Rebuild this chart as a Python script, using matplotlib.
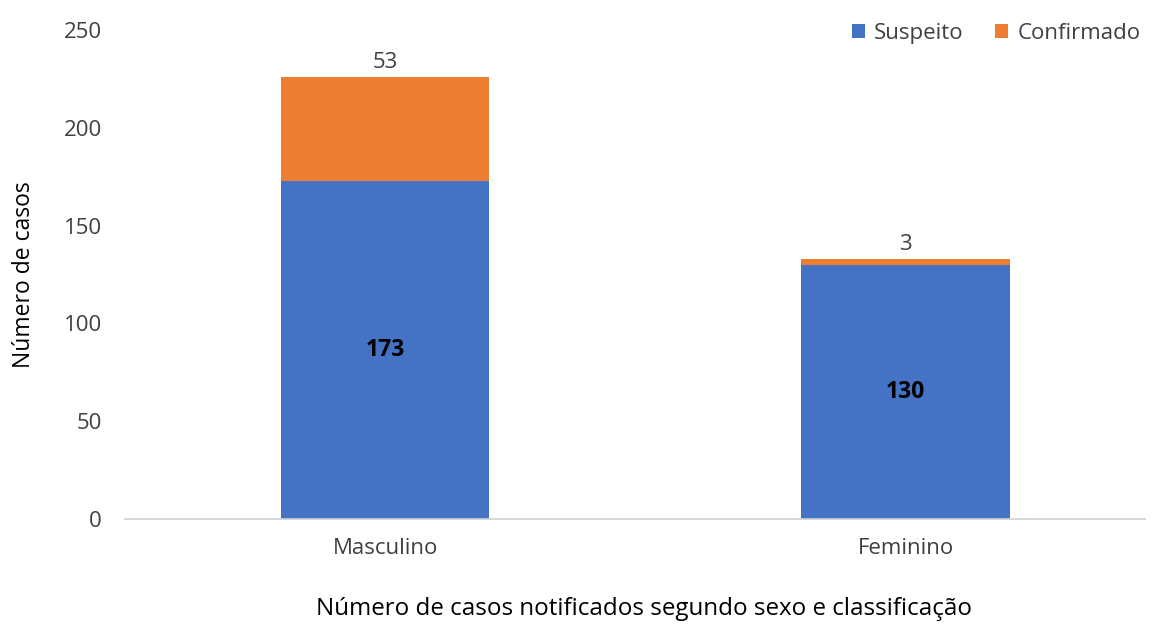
import matplotlib

matplotlib.use("Agg")
import matplotlib.pyplot as plt

# Casos notificados por sexo, divididos por classificação
categorias = ["Masculino", "Feminino"]
suspeito = [173, 130]
confirmado = [53, 3]
yticks = [0, 50, 100, 150, 200, 250]

plt.rcParams["font.family"] = ["Open Sans", "DejaVu Sans"]

AZUL = "#4472C4"
LARANJA = "#ED7D31"
TEXTO = "#404040"

fig = plt.figure(figsize=(11.55, 6.25), dpi=100)
ax = fig.add_axes([0.1082, 0.1696, 0.8831, 0.7824])

x = list(range(len(categorias)))
largura = 0.4
ax.bar(x, suspeito, largura, color=AZUL, label="Suspeito")
topo = [s + c for s, c in zip(suspeito, confirmado)]
ax.bar(x, confirmado, largura, bottom=suspeito, color=LARANJA, label="Confirmado")

for xi, s in zip(x, suspeito):
    ax.text(xi, s / 2, str(s), ha="center", va="center", fontsize=16.5,
            fontweight="bold", color="black")
for xi, t, c in zip(x, topo, confirmado):
    ax.text(xi, t + 2, str(c), ha="center", va="bottom", fontsize=16, color=TEXTO)

ax.set_xlim(-0.5, 1.46)
ax.set_ylim(0, 250)
ax.set_yticks(yticks)
ax.set_xticks(x)
ax.set_xticklabels(categorias)
ax.tick_params(axis="both", length=0, labelsize=16, colors=TEXTO)
ax.tick_params(axis="x", pad=14)
ax.tick_params(axis="y", pad=16.5)
for lado in ["top", "right", "left"]:
    ax.spines[lado].set_visible(False)
ax.spines["bottom"].set_color("#D0D0D0")
ax.spines["bottom"].set_linewidth(1.2)

ax.set_ylabel("Número de casos", fontsize=16.5, color="black", labelpad=20)
fig.text(0.558, 0.006, "Número de casos notificados segundo sexo e classificação",
         ha="center", va="bottom", fontsize=17.4, color="black")

ax.legend(loc="upper right", bbox_to_anchor=(1.015, 1.055), ncol=2, frameon=False,
          fontsize=16, handlelength=0.6, handleheight=0.6, handletextpad=0.4,
          columnspacing=1.4, labelcolor=TEXTO)

fig.savefig("out.png", dpi=100)
